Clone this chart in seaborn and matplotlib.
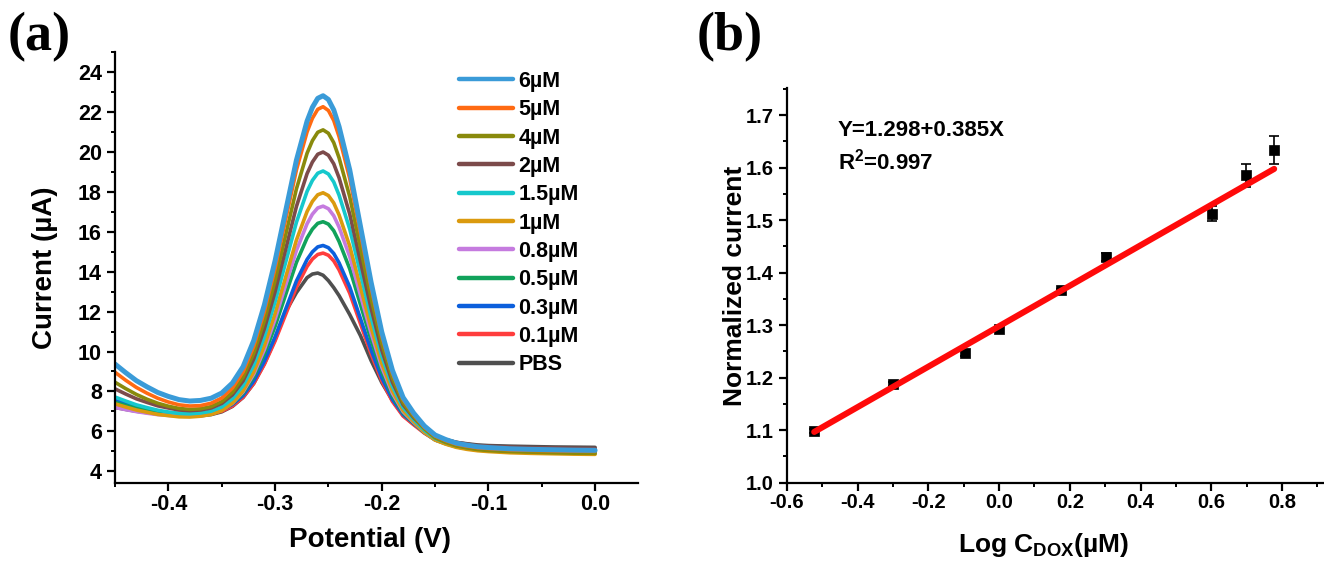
import numpy as np
import pandas as pd
import matplotlib
matplotlib.use("Agg")
import matplotlib.pyplot as plt
from matplotlib.lines import Line2D
from matplotlib.ticker import MultipleLocator
import seaborn as sns

# ---------------- data: panel (a) DPV curves ----------------
potential = [-0.45, -0.44, -0.43, -0.42, -0.41, -0.40, -0.39, -0.38, -0.37, -0.36,
             -0.35, -0.34, -0.33, -0.32, -0.31, -0.30, -0.29, -0.28, -0.27, -0.265,
             -0.26, -0.255, -0.25, -0.245, -0.24, -0.23, -0.22, -0.21, -0.20, -0.19,
             -0.18, -0.17, -0.16, -0.15, -0.14, -0.13, -0.12, -0.11, -0.10, -0.08,
             -0.06, -0.04, -0.02, 0.00]

cur_6uM = [9.37, 8.94, 8.54, 8.23, 7.95, 7.75, 7.59, 7.52, 7.55, 7.66,
           7.92, 8.42, 9.24, 10.55, 12.34, 14.54, 17.06, 19.58, 21.54, 22.23,
           22.68, 22.81, 22.62, 22.10, 21.26, 19.09, 16.28, 13.47, 10.98, 9.06,
           7.70, 6.91, 6.27, 5.82, 5.59, 5.41, 5.31, 5.23, 5.19, 5.13,
           5.10, 5.08, 5.06, 5.05]
cur_5uM = [8.96, 8.56, 8.20, 7.91, 7.66, 7.47, 7.33, 7.27, 7.29, 7.41,
           7.67, 8.17, 8.98, 10.26, 12.01, 14.16, 16.63, 19.09, 21.00, 21.68,
           22.13, 22.26, 22.07, 21.57, 20.76, 18.66, 15.93, 13.20, 10.78, 8.92,
           7.60, 6.84, 6.21, 5.77, 5.54, 5.36, 5.26, 5.18, 5.14, 5.08,
           5.05, 5.03, 5.01, 5.00]
cur_4uM = [8.46, 8.14, 7.85, 7.61, 7.41, 7.26, 7.15, 7.10, 7.13, 7.24,
           7.49, 7.95, 8.71, 9.91, 11.54, 13.55, 15.85, 18.14, 19.93, 20.56,
           20.98, 21.10, 20.93, 20.46, 19.70, 17.75, 15.20, 12.66, 10.41, 8.67,
           7.44, 6.73, 6.13, 5.68, 5.45, 5.27, 5.17, 5.09, 5.04, 4.99,
           4.96, 4.93, 4.91, 4.90]
cur_2uM = [8.13, 7.87, 7.63, 7.45, 7.28, 7.17, 7.07, 7.04, 7.07, 7.17,
           7.40, 7.83, 8.53, 9.63, 11.15, 13.00, 15.13, 17.26, 18.91, 19.49,
           19.88, 19.99, 19.83, 19.40, 18.70, 16.88, 14.52, 12.17, 10.08, 8.47,
           7.34, 6.68, 6.15, 5.78, 5.59, 5.45, 5.36, 5.29, 5.26, 5.22,
           5.19, 5.18, 5.16, 5.15]
cur_1p5uM = [7.72, 7.52, 7.33, 7.19, 7.06, 6.97, 6.90, 6.88, 6.92, 7.01,
             7.22, 7.63, 8.29, 9.32, 10.75, 12.49, 14.48, 16.47, 18.02, 18.57,
             18.93, 19.04, 18.89, 18.49, 17.83, 16.13, 13.93, 11.72, 9.77, 8.26,
             7.20, 6.59, 6.05, 5.65, 5.45, 5.29, 5.19, 5.12, 5.08, 5.03,
             5.00, 4.98, 4.96, 4.95]
cur_1uM = [7.38, 7.22, 7.07, 6.96, 6.85, 6.79, 6.73, 6.72, 6.76, 6.85,
           7.04, 7.42, 8.03, 8.98, 10.30, 11.90, 13.74, 15.58, 17.01, 17.52,
           17.85, 17.95, 17.81, 17.44, 16.84, 15.28, 13.24, 11.21, 9.41, 8.03,
           7.05, 6.49, 5.96, 5.57, 5.36, 5.20, 5.10, 5.03, 4.99, 4.93,
           4.90, 4.88, 4.86, 4.85]
cur_0p8uM = [7.20, 7.09, 6.99, 6.91, 6.84, 6.80, 6.76, 6.76, 6.80, 6.88,
             7.06, 7.41, 7.98, 8.87, 10.10, 11.61, 13.34, 15.06, 16.40, 16.88,
             17.19, 17.28, 17.15, 16.80, 16.23, 14.75, 12.83, 10.92, 9.22, 7.91,
             6.99, 6.45, 5.96, 5.58, 5.39, 5.23, 5.14, 5.07, 5.03, 4.98,
             4.95, 4.93, 4.91, 4.90]
cur_0p5uM = [7.45, 7.30, 7.16, 7.04, 6.95, 6.88, 6.83, 6.81, 6.84, 6.91,
             7.08, 7.39, 7.91, 8.74, 9.87, 11.26, 12.86, 14.46, 15.69, 16.13,
             16.42, 16.50, 16.38, 16.05, 15.51, 14.14, 12.36, 10.58, 9.00, 7.78,
             6.92, 6.41, 5.94, 5.57, 5.38, 5.23, 5.14, 5.07, 5.03, 4.98,
             4.95, 4.93, 4.91, 4.90]
cur_0p3uM = [7.55, 7.39, 7.24, 7.12, 7.01, 6.94, 6.88, 6.86, 6.88, 6.94,
             7.08, 7.35, 7.80, 8.52, 9.52, 10.73, 12.13, 13.53, 14.61, 14.99,
             15.24, 15.31, 15.20, 14.91, 14.44, 13.23, 11.65, 10.08, 8.69, 7.61,
             6.85, 6.40, 5.96, 5.61, 5.42, 5.28, 5.19, 5.12, 5.08, 5.03,
             5.00, 4.98, 4.96, 4.95]
cur_0p1uM = [7.30, 7.18, 7.07, 6.98, 6.90, 6.85, 6.81, 6.80, 6.83, 6.88,
             7.01, 7.27, 7.71, 8.40, 9.36, 10.53, 11.87, 13.22, 14.26, 14.63,
             14.86, 14.93, 14.82, 14.54, 14.09, 12.92, 11.40, 9.88, 8.54, 7.50,
             6.77, 6.33, 5.91, 5.58, 5.40, 5.26, 5.18, 5.11, 5.07, 5.03,
             5.00, 4.98, 4.96, 4.95]
cur_pbs = [7.20, 7.10, 7.01, 6.94, 6.88, 6.84, 6.80, 6.78, 6.78, 6.84,
           6.98, 7.25, 7.70, 8.40, 9.40, 10.60, 12.00, 12.95, 13.70, 13.88,
           13.93, 13.82, 13.55, 13.20, 12.80, 11.85, 10.80, 9.55, 8.45, 7.55,
           6.80, 6.35, 6.00, 5.75, 5.58, 5.45, 5.38, 5.32, 5.29, 5.26,
           5.24, 5.22, 5.21, 5.20]

series_labels = ["6µM", "5µM", "4µM", "2µM", "1.5µM", "1µM", "0.8µM", "0.5µM", "0.3µM", "0.1µM", "PBS"]
series_values = [cur_6uM, cur_5uM, cur_4uM, cur_2uM, cur_1p5uM, cur_1uM, cur_0p8uM, cur_0p5uM,
                 cur_0p3uM, cur_0p1uM, cur_pbs]
series_colors = ["#3A9BD8", "#FF6A12", "#898A0C", "#7C4B4B", "#16C8CC", "#DB9A0E", "#C57BDF",
                 "#11A25B", "#0C5FDC", "#FF3D3D", "#4F4F4F"]

# ---------------- data: panel (b) calibration ----------------
log_c = [-0.523, -0.301, -0.097, 0.000, 0.176, 0.301, 0.602, 0.699, 0.778]
norm_current = [1.098, 1.188, 1.246, 1.292, 1.366, 1.430, 1.512, 1.585, 1.634]
norm_err = [0.004, 0.003, 0.005, 0.004, 0.003, 0.007, 0.014, 0.022, 0.027]
fit_intercept = 1.298
fit_slope = 0.385

# ---------------- style ----------------
sns.set_theme(style="ticks")
plt.rcParams["font.family"] = ["Liberation Sans", "DejaVu Sans"]
plt.rcParams["font.weight"] = "bold"
plt.rcParams["axes.labelweight"] = "bold"
plt.rcParams["text.color"] = "black"
plt.rcParams["axes.labelcolor"] = "black"
plt.rcParams["xtick.color"] = "black"
plt.rcParams["ytick.color"] = "black"
plt.rcParams["mathtext.fontset"] = "custom"
plt.rcParams["mathtext.rm"] = "Liberation Sans:bold"
plt.rcParams["mathtext.it"] = "Liberation Sans:bold"
plt.rcParams["mathtext.bf"] = "Liberation Sans:bold"
plt.rcParams["axes.linewidth"] = 1.6
plt.rcParams["axes.edgecolor"] = "black"

fig = plt.figure(figsize=(13.24, 5.61), dpi=100)
fig.patch.set_facecolor("white")

ax1 = fig.add_axes([0.0869, 0.1385, 0.3948, 0.7688])
ax2 = fig.add_axes([0.5944, 0.1396, 0.4056, 0.7030])

# ---- panel (a) ----
rows = []
for lab, vals in zip(series_labels, series_values):
    for e, v in zip(potential, vals):
        rows.append((lab, e, v))
df = pd.DataFrame(rows, columns=["conc", "E", "I"])
palette = dict(zip(series_labels, series_colors))
draw_order = series_labels[::-1]
sns.lineplot(data=df, x="E", y="I", hue="conc", hue_order=draw_order, palette=palette,
             estimator=None, sort=False, legend=False, linewidth=2.6, ax=ax1)
for ln in ax1.lines:
    ln.set_solid_joinstyle("round")
    if ln.get_color().lower() == palette["6µM"].lower():
        ln.set_linewidth(3.6)

ax1.set_xlim(-0.45, 0.04)
ax1.set_ylim(3.4, 25.0)
ax1.xaxis.set_major_locator(MultipleLocator(0.1))
ax1.xaxis.set_minor_locator(MultipleLocator(0.05))
ax1.yaxis.set_major_locator(MultipleLocator(2))
ax1.yaxis.set_minor_locator(MultipleLocator(1))
ax1.set_xticks([-0.4, -0.3, -0.2, -0.1, 0.0])
ax1.set_xticklabels(["-0.4", "-0.3", "-0.2", "-0.1", "0.0"])
ax1.set_xlabel("Potential (V)", fontsize=20, fontweight="bold")
ax1.set_ylabel("Current (µA)", fontsize=20, fontweight="bold")
ax1.xaxis.label.set_va("center")
ax1.yaxis.label.set_va("center")
ax1.xaxis.set_label_coords(0.488, -0.131)
ax1.yaxis.set_label_coords(-0.134, 0.5)
sns.despine(ax=ax1)

handles = [Line2D([], [], color=c, lw=3.2) for c in series_colors]
leg = ax1.legend(handles, series_labels, loc="upper left",
                 bbox_to_anchor=(459 / 1324, 1 - 71 / 561), bbox_transform=fig.transFigure,
                 frameon=False, fontsize=15.5, handlelength=2.5, handletextpad=0.25,
                 labelspacing=0.34, borderpad=0, borderaxespad=0)
for t in leg.get_texts():
    t.set_fontweight("bold")
    t.set_color("black")

# ---- panel (b) ----
ax2.errorbar(log_c, norm_current, yerr=norm_err, fmt="none", ecolor="black",
             elinewidth=1.2, capsize=3.6, capthick=1.2, zorder=2)
sns.scatterplot(x=log_c, y=norm_current, marker="s", color="black", edgecolor="black",
                s=42, linewidth=0.5, ax=ax2, zorder=3)
fit_x = np.array([min(log_c), max(log_c)])
fit_y = fit_intercept + fit_slope * fit_x
sns.lineplot(x=fit_x, y=fit_y, color="#FF0A0A", linewidth=4.4, ax=ax2, zorder=4)

ax2.set_xlim(-0.6, 0.919)
ax2.set_ylim(1.0, 1.751)
ax2.xaxis.set_major_locator(MultipleLocator(0.2))
ax2.xaxis.set_minor_locator(MultipleLocator(0.1))
ax2.yaxis.set_major_locator(MultipleLocator(0.1))
ax2.yaxis.set_minor_locator(MultipleLocator(0.05))
ax2.set_xticks([-0.6, -0.4, -0.2, 0.0, 0.2, 0.4, 0.6, 0.8])
ax2.set_xticklabels(["-0.6", "-0.4", "-0.2", "0.0", "0.2", "0.4", "0.6", "0.8"])
ax2.set_yticks([1.0, 1.1, 1.2, 1.3, 1.4, 1.5, 1.6, 1.7])
ax2.set_yticklabels(["1.0", "1.1", "1.2", "1.3", "1.4", "1.5", "1.6", "1.7"])
ax2.set_xlabel(r"Log C$_{\mathrm{DOX}}$(µM)", fontsize=19, fontweight="bold")
ax2.set_ylabel("Normalized current", fontsize=19, fontweight="bold")
ax2.xaxis.label.set_va("center")
ax2.yaxis.label.set_va("center")
ax2.xaxis.set_label_coords(0.477, -0.158)
ax2.yaxis.set_label_coords(-0.097, 0.5)
sns.despine(ax=ax2)

ax2.text(-0.456, 1.671, "Y=1.298+0.385X", fontsize=16, fontweight="bold", va="center", ha="left",
         color="black")
ax2.text(-0.456, 1.611, r"R$^{2}$=0.997", fontsize=16, fontweight="bold", va="center", ha="left",
         color="black")

for ax, lsize in ((ax1, 15.5), (ax2, 14.5)):
    ax.tick_params(axis="both", which="major", direction="out", length=5.5, width=1.6,
                   labelsize=lsize, color="black", labelcolor="black")
    ax.tick_params(axis="both", which="minor", direction="out", length=3.2, width=1.4, color="black")
    ax.tick_params(axis="x", which="major", pad=2)
    ax.tick_params(axis="y", which="major", pad=4)
    for lbl in ax.get_xticklabels() + ax.get_yticklabels():
        lbl.set_fontweight("bold")
    ax.set_facecolor("white")

fig.text(0.006, 0.934, "(a)", fontsize=39, fontweight="bold", va="center", ha="left",
         color="black", family=["Liberation Serif", "DejaVu Serif"])
fig.text(0.5264, 0.934, "(b)", fontsize=39, fontweight="bold", va="center", ha="left",
         color="black", family=["Liberation Serif", "DejaVu Serif"])

fig.savefig("out.png", dpi=100, facecolor="white")
